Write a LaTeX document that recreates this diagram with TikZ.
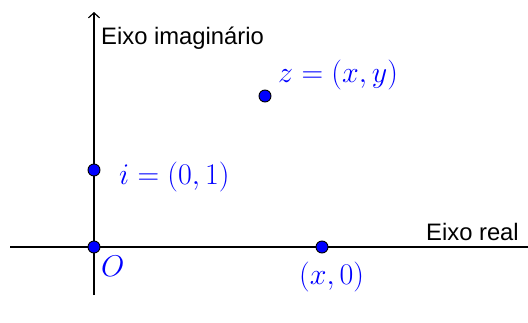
\RequirePackage{fix-cm}
\documentclass[tikz,border=0pt]{standalone}
\usepackage{fontspec}
\setmainfont{Liberation Sans}
\usetikzlibrary{arrows.meta}
\definecolor{ptblue}{RGB}{0,0,255}
\tikzset{
  axis/.style={line width=1.3pt, black},
  pt/.style={circle, fill=ptblue, draw=black, line width=0.9pt, minimum size=12pt, inner sep=0pt},
  axlabel/.style={font=\fontsize{23.8}{26}\selectfont, inner sep=0pt, text=black},
  mlabel/.style={font=\fontsize{30}{32}\selectfont, inner sep=0pt, text=ptblue}
}
\begin{document}
\begin{tikzpicture}[x=1pt,y=-1pt]
\useasboundingbox (0,0) rectangle (528,322);
\coordinate (xl) at (10,247);
\coordinate (xr) at (528,247);
\coordinate (yb) at (94,295);
\coordinate (yt) at (94,12);
\draw[axis] (xl) -- (xr);
\draw[axis, -{Straight Barb[length=5pt,width=11pt,line width=1.2pt]}] (yb) -- (yt);
\node[axlabel, anchor=base west] (lim) at (101,44) {Eixo imaginário};
\node[axlabel, anchor=base west] (lre) at (426,240) {Eixo real};
\node[pt] (O) at (94,247) {};
\node[pt] (I) at (94,170) {};
\node[pt] (Z) at (265,96) {};
\node[pt] (X) at (322,247) {};
\node[mlabel, anchor=west] (lz) at (278,75) {$z=(x,y)$};
\node[mlabel, anchor=west] (li) at (119,177) {$i=(0,1)$};
\node[mlabel, anchor=west] (lx) at (299,277) {$(x,0)$};
\node[mlabel, anchor=base west] (lo) at (101,276) {$O$};
\end{tikzpicture}
\end{document}
